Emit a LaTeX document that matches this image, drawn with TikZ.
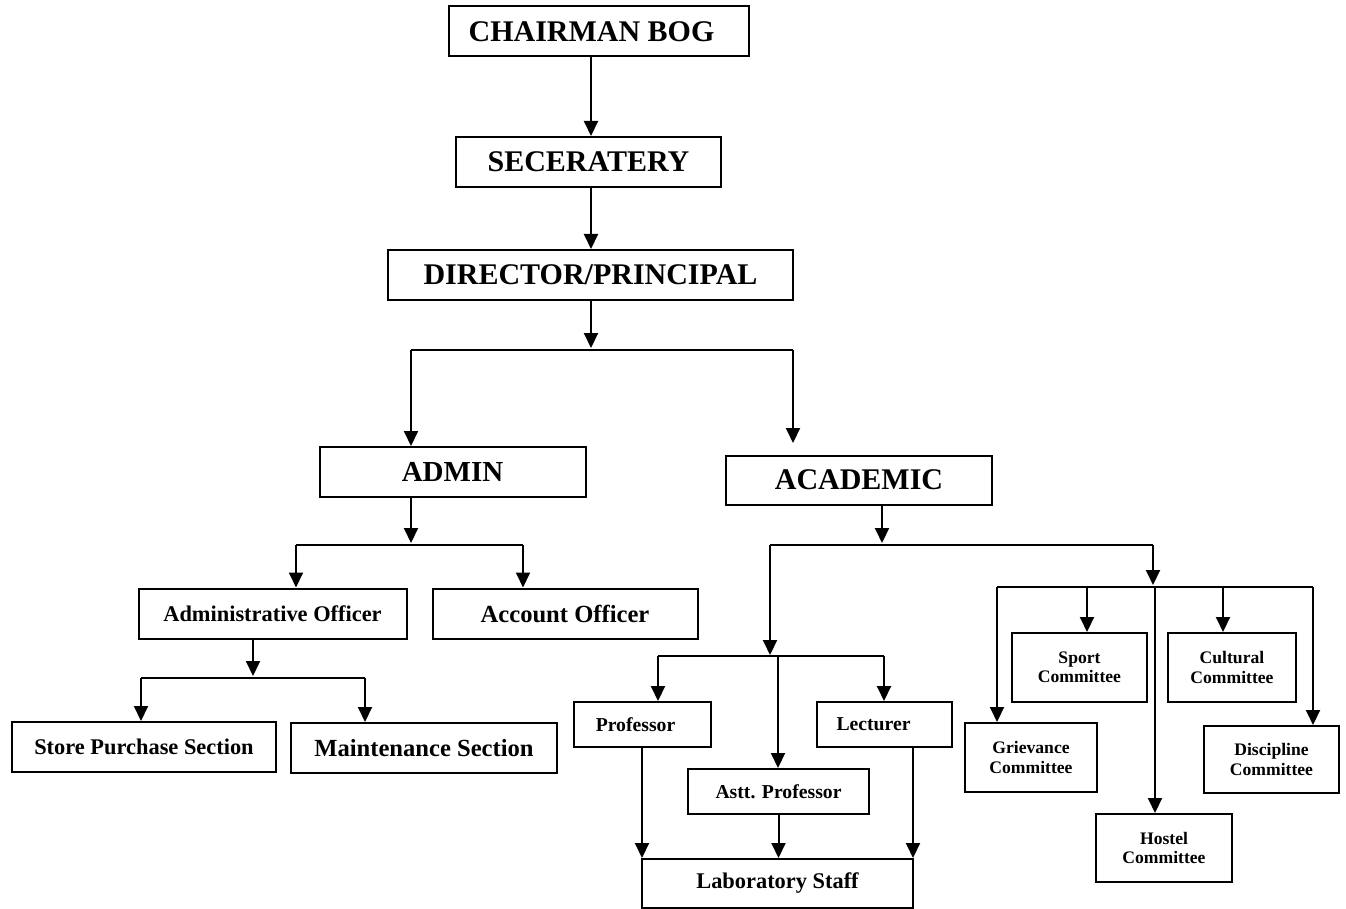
\documentclass[tikz,border=0pt]{standalone}
\usepackage{fontspec}
\setmainfont{Liberation Serif}
\usetikzlibrary{arrows.meta,calc}
\begin{document}
\begin{tikzpicture}[x=1pt,y=-1pt,
  box/.style={draw, line width=2pt, inner sep=0pt, align=center, font=\bfseries},
  ln/.style={line width=2pt},
  arr/.style={line width=2pt, -{Triangle[length=15pt,width=14pt]}},
  fA/.style={font=\bfseries\fontsize{30}{34}\selectfont},
  fB/.style={font=\bfseries\fontsize{22.4}{26}\selectfont},
  fC/.style={font=\bfseries\fontsize{24.6}{28}\selectfont},
  fD/.style={font=\bfseries\fontsize{19.7}{23}\selectfont},
  fE/.style={font=\bfseries\fontsize{17.6}{19.5}\selectfont}]
\useasboundingbox (0,0) rectangle (1346,909);
\fill[white] (0,0) rectangle (1346,909);

% top chain
\node[box,fA,minimum width=300,minimum height=50] (chair) at (599,31.5) {CHAIRMAN BOG\hspace{15pt}};
\node[box,fA,minimum width=265,minimum height=50] (sec) at (588.5,162) {SECERATERY};
\node[box,fA,minimum width=405,minimum height=50] (dir) at (590.5,275) {DIRECTOR/PRINCIPAL};
\node[box,font=\bfseries\fontsize{29}{33}\selectfont,minimum width=266,minimum height=50] (admin) at (452.5,472) {ADMIN};
\node[box,fA,minimum width=266,minimum height=49] (acad) at (859,480) {ACADEMIC};

% admin side
\node[box,fB,minimum width=268,minimum height=50] (adoff) at (272.5,613.5) {Administrative Officer};
\node[box,fC,minimum width=265,minimum height=50] (accoff) at (565,613.5) {Account Officer};
\node[box,fB,minimum width=264,minimum height=50] (store) at (144,747) {Store Purchase Section};
\node[box,fC,minimum width=266,minimum height=50] (maint) at (424,748) {Maintenance Section};

% academic staff
\node[box,fD,minimum width=137,minimum height=45] (prof) at (642.5,724.5) {Professor\hspace{14pt}};
\node[box,fD,minimum width=135,minimum height=45] (lect) at (884.5,724.5) {Lecturer\hspace{22pt}};
\node[box,fD,minimum width=181,minimum height=45] (astt) at (778.5,791.5) {Astt. Professor};
\node[box,fB,minimum width=271,minimum height=49] (lab) at (777.5,883.5) {Laboratory Staff};

% committees
\node[box,fE,minimum width=135,minimum height=69] (sport) at (1079.5,667.5) {Sport\\Committee};
\node[box,fE,minimum width=128,minimum height=69] (cult) at (1232,667.5) {Cultural\\Committee};
\node[box,fE,minimum width=132,minimum height=69] (griev) at (1031,757.5) {Grievance\\Committee};
\node[box,fE,minimum width=135,minimum height=67] (disc) at (1271.5,759.5) {Discipline\\Committee};
\node[box,fE,minimum width=136,minimum height=68] (host) at (1164,848) {Hostel\\Committee};

% junction coordinates
\coordinate (tr) at (591,0);
\coordinate (b1) at (591,350);
\coordinate (b1l) at (411,350);
\coordinate (b1r) at (793,350);
\coordinate (b1re) at (793,443);
\coordinate (b2) at (411,545);
\coordinate (b2l) at (296,545);
\coordinate (b2r) at (523,545);
\coordinate (b3) at (253,678);
\coordinate (b3l) at (141,678);
\coordinate (b3r) at (365,678);
\coordinate (c1) at (882,545);
\coordinate (c1l) at (770,545);
\coordinate (c1r) at (1153,545);
\coordinate (c2) at (770,656);
\coordinate (c2l) at (658,656);
\coordinate (c2m) at (778,656);
\coordinate (c2r) at (884,656);
\coordinate (c3) at (1153,587);
\coordinate (c3l) at (997,587);
\coordinate (c3a) at (1087,587);
\coordinate (c3m) at (1155,587);
\coordinate (c3b) at (1223,587);
\coordinate (c3r) at (1313,587);

% top chain connectors
\draw[arr] (chair.south -| tr) -- (sec.north -| tr);
\draw[arr] (sec.south -| tr) -- (dir.north -| tr);
\draw[arr] (dir.south -| tr) -- ($(b1)+(0,-2)$);
\draw[ln] (b1l) -- (b1r);
\draw[arr] (b1l) -- (admin.north -| b1l);
\draw[arr] (b1r) -- (b1re);

% admin connectors
\draw[arr] (admin.south -| b2) -- ($(b2)+(0,-2)$);
\draw[ln] (b2l) -- (b2r);
\draw[arr] (b2l) -- (adoff.north -| b2l);
\draw[arr] (b2r) -- (accoff.north -| b2r);
\draw[arr] (adoff.south -| b3) -- ($(b3)+(0,-2)$);
\draw[ln] (b3l) -- (b3r);
\draw[arr] (b3l) -- (store.north -| b3l);
\draw[arr] (b3r) -- (maint.north -| b3r);

% academic connectors
\draw[arr] (acad.south -| c1) -- ($(c1)+(0,-2)$);
\draw[ln] (c1l) -- (c1r);
\draw[arr] (c1l) -- ($(c2)+(0,-1)$);
\draw[ln] (c2l) -- (c2r);
\draw[arr] (c2l) -- (prof.north -| c2l);
\draw[arr] (c2r) -- (lect.north -| c2r);
\draw[arr] (c2m) -- (astt.north -| c2m);
\draw[arr] ($(prof.south -| lab.west)+(1,0)$) -- ($(lab.north west)+(1,0)$);
\draw[arr] (astt.south) -- (lab.north -| astt.south);
\draw[arr] ($(lect.south -| lab.east)+(-1,0)$) -- ($(lab.north east)+(-1,0)$);

% committee connectors
\draw[arr] (c1r) -- ($(c3)+(0,-2)$);
\draw[ln] (c3l) -- (c3r);
\draw[arr] (c3l) -- (griev.north -| c3l);
\draw[arr] (c3a) -- (sport.north -| c3a);
\draw[arr] (c3m) -- (host.north -| c3m);
\draw[arr] (c3b) -- (cult.north -| c3b);
\draw[arr] (c3r) -- (disc.north -| c3r);
\end{tikzpicture}
\end{document}
